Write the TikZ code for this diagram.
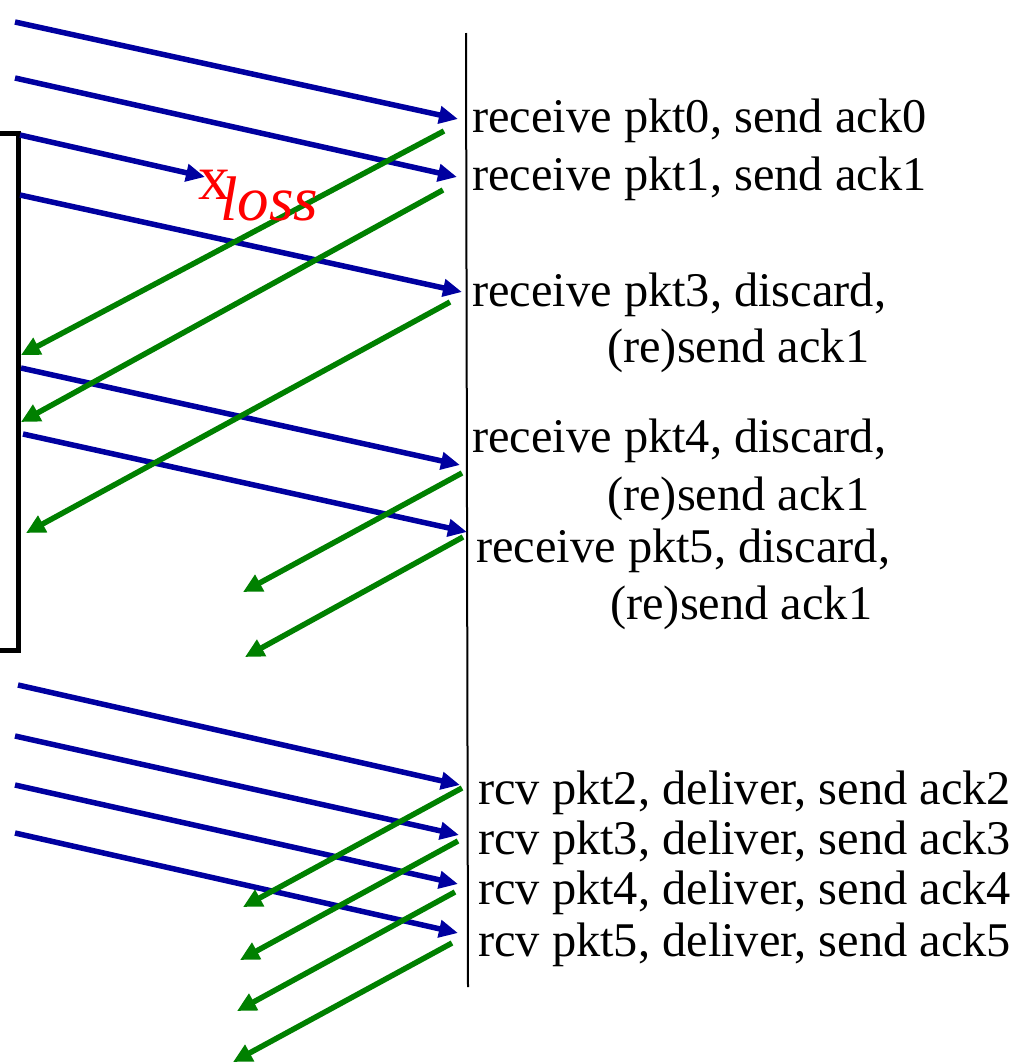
\documentclass[tikz,border=0pt]{standalone}
\usepackage{fontspec}
\setmainfont{Liberation Serif}
\usetikzlibrary{arrows.meta}
\definecolor{pktblue}{RGB}{0,0,160}
\definecolor{ackgreen}{RGB}{0,128,0}
\begin{document}
\begin{tikzpicture}[x=1pt,y=-1pt,
  pkt/.style={draw=pktblue,line width=5.5pt,-{Triangle[length=19pt,width=17pt]}},
  ack/.style={draw=ackgreen,line width=5.5pt,-{Triangle[length=19pt,width=18pt]}},
  lbl/.style={anchor=base west,inner sep=0pt,font=\fontsize{48.4}{56}\selectfont},
  lossf/.style={anchor=base west,inner sep=0pt,text=red,font=\fontsize{64}{70}\selectfont}]
\useasboundingbox (0,0) rectangle (1027,1063);
% receiver timeline
\coordinate (rtop) at (466,33);
\coordinate (rbot) at (468,987);
\draw[line width=2pt] (rtop) -- (rbot);
% sender bracket (window)
\coordinate (b1) at (0,133);
\coordinate (b2) at (18,133);
\coordinate (b3) at (18,650);
\coordinate (b4) at (0,650);
\draw[line width=5pt] (b1) -- (b2) -- (b3) -- (b4);
% packets
\foreach \i/\ax/\ay/\bx/\by in {1/15/22/458/119, 2/15/78/457/177, 3/20/135/205/177,
  4/20/195/462/292, 5/21/368/460/465, 6/23/434/467/532,
  7/18/685/460/785, 8/15/736/459/835, 9/15/785/458/884, 10/15/833/458/933}{
  \coordinate (ps\i) at (\ax,\ay);
  \coordinate (pe\i) at (\bx,\by);
  \draw[pkt] (ps\i) -- (pe\i);
}
% acks
\foreach \i/\ax/\ay/\bx/\by in {1/444/131/21/355, 2/443/190/21/422, 3/450/302/26/533,
  4/462/473/243/592, 5/463/537/245/657,
  6/462/788/243/907, 7/458/841/240/960, 8/455/892/237/1011, 9/452/943/233/1062}{
  \coordinate (as\i) at (\ax,\ay);
  \coordinate (ae\i) at (\bx,\by);
  \draw[ack] (as\i) -- (ae\i);
}
% loss mark
\node[lossf] (lx) at (198,199) {x};
\node[lossf,font=\fontsize{63}{70}\selectfont\itshape] (lloss) at (220,220) {loss};
% receiver labels
\node[lbl] (t1) at (472,132) {receive pkt0, send ack0};
\node[lbl] (t2) at (472,190) {receive pkt1, send ack1};
\node[lbl] (t3) at (472,306) {receive pkt3, discard,};
\node[lbl] (t3b) at (607,362) {(re)send ack1};
\node[lbl] (t4) at (472,452) {receive pkt4, discard,};
\node[lbl] (t4b) at (607,510) {(re)send ack1};
\node[lbl] (t5) at (476,562) {receive pkt5, discard,};
\node[lbl] (t5b) at (610,619) {(re)send ack1};
\node[lbl] (r2) at (478,804) {rcv pkt2, deliver, send ack2};
\node[lbl] (r3) at (478,854) {rcv pkt3, deliver, send ack3};
\node[lbl] (r4) at (478,904) {rcv pkt4, deliver, send ack4};
\node[lbl] (r5) at (478,956) {rcv pkt5, deliver, send ack5};
\end{tikzpicture}
\end{document}
